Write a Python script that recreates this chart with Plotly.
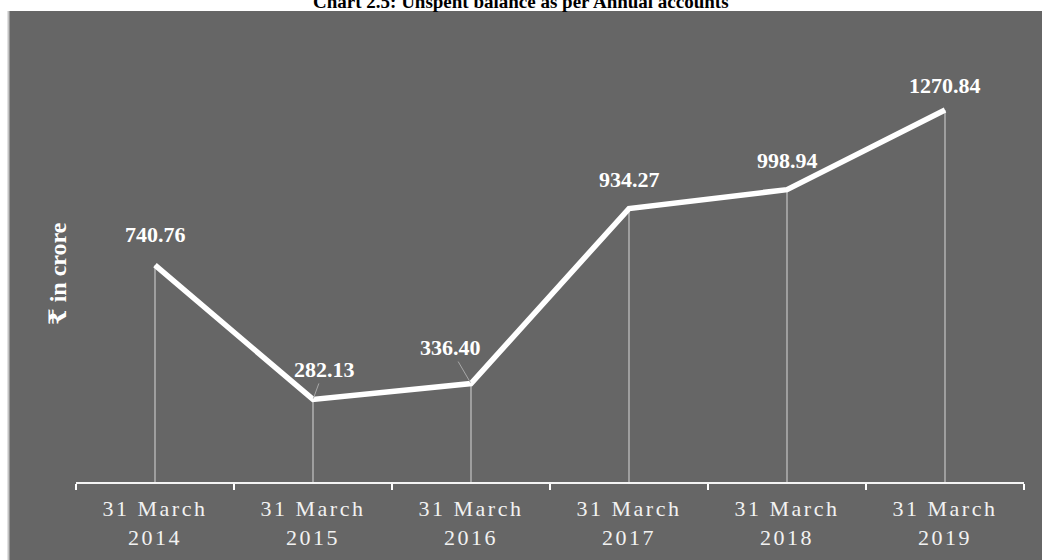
import plotly.graph_objects as go

# Unspent balance at the end of each financial year (₹ in crore)
categories = ["31 March<br>2014", "31 March<br>2015", "31 March<br>2016",
              "31 March<br>2017", "31 March<br>2018", "31 March<br>2019"]
balances = [740.76, 282.13, 336.40, 934.27, 998.94, 1270.84]

title_text = "Chart 2.5: Unspent balance as per Annual accounts"
y_title = "₹ in crore"

SERIF = "Liberation Serif, Times New Roman, DejaVu Serif, serif"
BG = "#666666"

# plot-area geometry (pixels)
W, H = 1042, 560
L, R, T, B = 76, 18, 43, 78
pw, ph = W - L - R, H - T - B


def px_x(p):
    return (p - L) / pw


def px_y(p):
    return (H - B - p) / ph


fig = go.Figure()

# thin drop lines from each point down to the axis
fig.add_trace(go.Scatter(
    x=categories, y=balances, mode="markers",
    marker=dict(size=1, color="rgba(0,0,0,0)"),
    error_y=dict(type="data", symmetric=False,
                 array=[0] * len(balances), arrayminus=balances,
                 width=0, thickness=1.3, color="rgba(220,220,220,0.75)"),
    hoverinfo="skip", showlegend=False,
))

# the balance line
fig.add_trace(go.Scatter(
    x=categories, y=balances, mode="lines",
    line=dict(color="white", width=5.5),
    showlegend=False,
))

# value labels
label_style = {
    0: dict(yshift=31),
    1: dict(showarrow=True, ax=11, ay=-30),
    2: dict(showarrow=True, ax=-21, ay=-36),
    3: dict(yshift=29),
    4: dict(yshift=29),
    5: dict(yshift=25),
}
for i, (c, v) in enumerate(zip(categories, balances)):
    st = dict(showarrow=False)
    st.update(label_style[i])
    if st.get("showarrow"):
        st.update(arrowhead=0, arrowwidth=1, arrowcolor="#a8a8a8", standoff=1)
    fig.add_annotation(
        x=c, y=v, text=f"{v:.2f}",
        font=dict(family=SERIF, size=22, color="white", weight="bold"),
        yanchor="middle", xanchor="center", **st,
    )

# y-axis title
fig.add_annotation(
    xref="paper", yref="paper", x=px_x(43), y=px_y(274),
    text=y_title, textangle=-90, showarrow=False,
    font=dict(family=SERIF, size=24, color="white", weight="bold"),
)

# chart title, partly above the page edge
fig.add_annotation(
    xref="paper", yref="paper", x=px_x(521), y=px_y(1),
    text=title_text, showarrow=False, yanchor="middle",
    font=dict(family=SERIF, size=19, color="black", weight="bold"),
)

# grey panel and its light left edge
fig.add_shape(type="rect", xref="paper", yref="paper",
              x0=px_x(8), x1=px_x(W + 2), y0=px_y(11), y1=px_y(H + 2),
              fillcolor=BG, line=dict(width=0), layer="below")
fig.add_shape(type="line", xref="paper", yref="paper",
              x0=px_x(8.5), x1=px_x(8.5), y0=px_y(11), y1=px_y(H + 2),
              line=dict(color="#c4c4c4", width=2), layer="below")

fig.update_layout(
    width=W, height=H,
    margin=dict(l=L, r=R, t=T, b=B, autoexpand=False),
    paper_bgcolor="white", plot_bgcolor=BG,
    xaxis=dict(
        type="category", range=[-0.5, len(categories) - 0.5],
        tickson="boundaries", ticks="outside",
        ticklen=6, tickwidth=2, tickcolor="white",
        showline=True, linecolor="#f4f4f4", linewidth=2,
        showgrid=False, zeroline=False, automargin=False,
        ticklabelstandoff=6,
        tickfont=dict(family=SERIF, size=22, color="#f2f2f2"),
    ),
    yaxis=dict(range=[0, 1500], visible=False),
)

letter_spacing = """
document.querySelectorAll('.xtick text').forEach(function (t) {
  t.style.letterSpacing = '2.5px';
});
"""

fig.write_html("out.html", post_script=letter_spacing)
